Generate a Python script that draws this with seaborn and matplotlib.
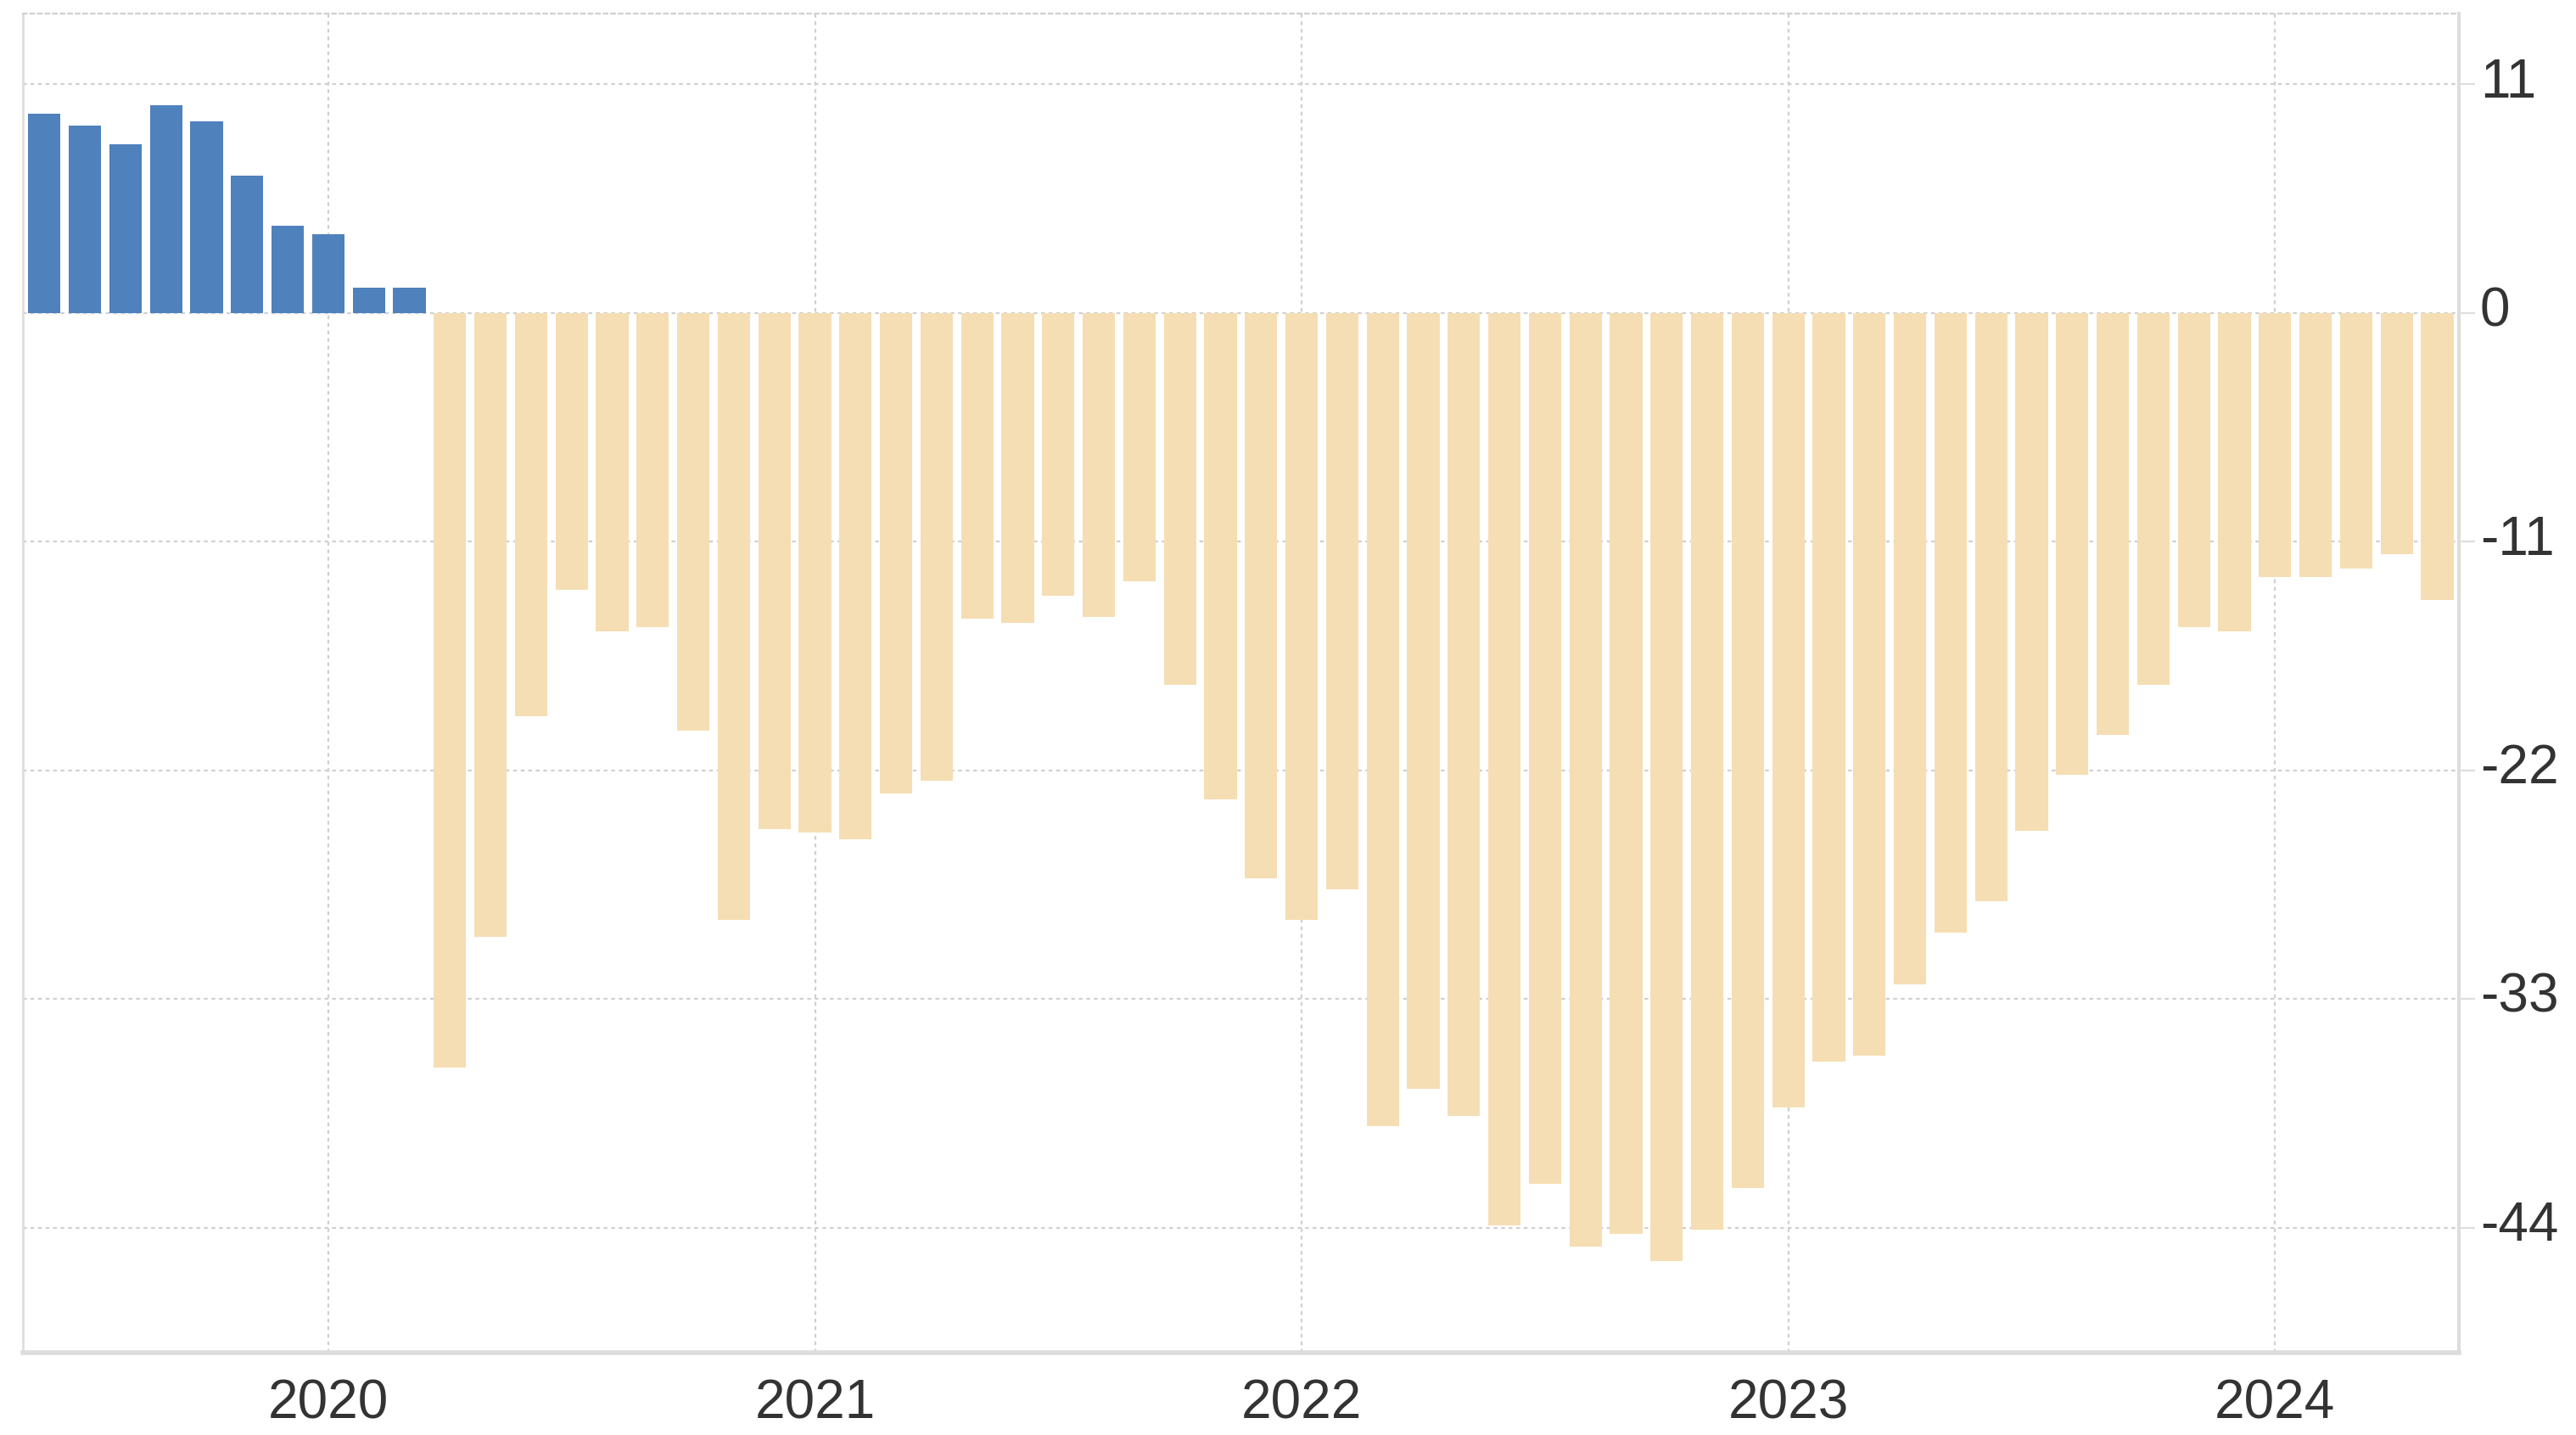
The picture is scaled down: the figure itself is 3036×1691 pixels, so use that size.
import pandas as pd
import matplotlib
matplotlib.use("Agg")
import matplotlib.pyplot as plt
import matplotlib.transforms as mtransforms
import seaborn as sns

# monthly values, Jun 2019 .. May 2024
months = pd.date_range("2019-06-01", periods=60, freq="MS")
pos_values = [9.6, 9.0, 8.1, 10.0, 9.2, 6.6, 4.2, 3.8, 1.2, 1.2]
neg_values = [-36.3, -30.0, -19.4, -13.3, -15.3, -15.1, -20.1, -29.2, -24.8, -25.0,
              -25.3, -23.1, -22.5, -14.7, -14.9, -13.6, -14.6, -12.9, -17.9, -23.4,
              -27.2, -29.2, -27.7, -39.1, -37.3, -38.6, -43.9, -41.9, -44.9, -44.3,
              -45.6, -44.1, -42.1, -38.2, -36.0, -35.7, -32.3, -29.8, -28.3, -24.9,
              -22.2, -20.3, -17.9, -15.1, -15.3, -12.7, -12.7, -12.3, -11.6, -13.8]
y_ticks = [11, 0, -11, -22, -33, -44]
y_labels = ["11", "0", "-11", "-22", "-33", "-44"]

values = pos_values + neg_values
df = pd.DataFrame({
    "month": months.strftime("%Y-%m"),
    "value": values,
    "sign": ["pos" if v >= 0 else "neg" for v in values],
})

sns.set_style("white")
plt.rcParams["font.family"] = ["Liberation Sans", "DejaVu Sans"]

fig = plt.figure(figsize=(30.36, 16.91), dpi=100)
ax = fig.add_axes([0.0089, 0.0574, 0.9456, 0.9331])

sns.barplot(data=df, x="month", y="value", hue="sign",
            palette={"pos": "#4F81BD", "neg": "#F5DEB3"}, saturation=1,
            dodge=False, width=0.8, linewidth=0, legend=False, ax=ax)

ax.set_xlim(-0.53, len(df) - 0.47)
ax.set_ylim(-50.0, 14.4)

# year ticks at each January
jan_idx = [i for i, m in enumerate(months) if m.month == 1]
ax.set_xticks(jan_idx)
ax.set_xticklabels([str(months[i].year) for i in jan_idx])
ax.set_yticks(y_ticks)
ax.set_yticklabels(y_labels)
ax.yaxis.tick_right()
ax.set_xlabel("")
ax.set_ylabel("")

ax.set_axisbelow(True)
ax.grid(True, axis="both", color="#d0d0d0", linestyle=(0, (2, 2)), linewidth=1.6)

ax.tick_params(axis="x", length=0, pad=22, labelsize=46, labelcolor="#333333")
ax.tick_params(axis="y", right=True, left=False, length=14, width=1.5,
               color="#dddddd", pad=4, labelsize=46, labelcolor="#333333")

# y labels sit a little above their gridlines
shift = mtransforms.ScaledTranslation(0, 8 / 100, fig.dpi_scale_trans)
for lbl in ax.get_yticklabels():
    lbl.set_transform(lbl.get_transform() + shift)

for side in ["left", "right", "bottom", "top"]:
    ax.spines[side].set_visible(True)
    ax.spines[side].set_color("#dddddd")
ax.spines["left"].set_linewidth(2)
ax.spines["right"].set_linewidth(3)
ax.spines["bottom"].set_linewidth(4)
ax.spines["top"].set_linewidth(1.6)
ax.spines["top"].set_color("#d0d0d0")
ax.spines["top"].set_linestyle((0, (2, 2)))

fig.savefig("out.png", dpi=100)
